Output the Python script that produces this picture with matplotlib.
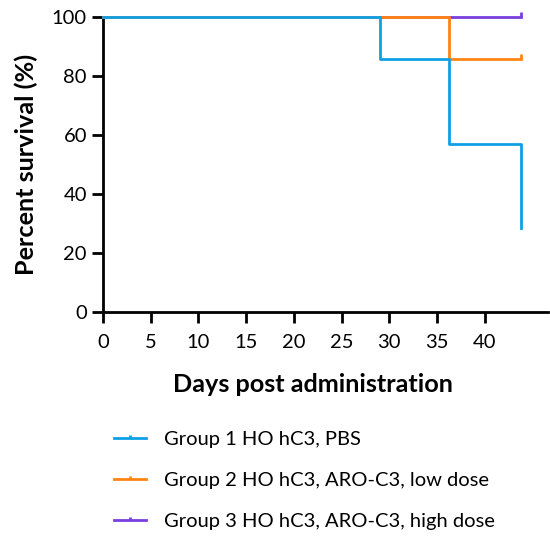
import matplotlib
matplotlib.use("Agg")
from matplotlib import pyplot as plt
from matplotlib.path import Path
from matplotlib.lines import Line2D

plt.rcParams['font.family'] = ['Lato', 'DejaVu Sans']

# Kaplan-Meier steps per group
g1_days = [0, 29, 36.3, 43.8]
g1_surv = [100, 85.7, 57.1, 28.6]
g2_days = [0, 36.3, 43.8]
g2_surv = [100, 85.7, 85.7]
g3_days = [0, 43.8]
g3_surv = [100, 100]
censor_g2 = ([43.8], [85.7])
censor_g3 = ([43.8], [100])

labels = ['Group 1 HO hC3, PBS',
          'Group 2 HO hC3, ARO-C3, low dose',
          'Group 3 HO hC3, ARO-C3, high dose']
colors = ['#0ea0e6', '#ff8412', '#7a3fe0']

# upward tick used for censored points
up_tick = Path([(0, 0), (0, 1)], [Path.MOVETO, Path.LINETO])

fig = plt.figure(figsize=(5.5, 5.38), dpi=100)
ax = fig.add_axes([0.187, 0.42, 0.809, 0.548])

ax.plot(g3_days, g3_surv, drawstyle='steps-post', color=colors[2], lw=2, clip_on=False, zorder=3)
ax.plot(g2_days, g2_surv, drawstyle='steps-post', color=colors[1], lw=2, clip_on=False, zorder=4)
ax.plot(g1_days, g1_surv, drawstyle='steps-post', color=colors[0], lw=2, clip_on=False, zorder=5)
ax.plot(*censor_g2, marker=up_tick, ms=7, mew=2, color=colors[1], ls='none', clip_on=False, zorder=4)
ax.plot(*censor_g3, marker=up_tick, ms=7, mew=2, color=colors[2], ls='none', clip_on=False, zorder=3)

ax.set_xlim(0, 46.6)
ax.set_ylim(0, 100)
ax.set_xticks(range(0, 41, 5))
ax.set_yticks(range(0, 101, 20))
for s in ['top', 'right']:
    ax.spines[s].set_visible(False)
for s in ['left', 'bottom']:
    ax.spines[s].set_linewidth(2)
ax.tick_params(width=2, length=8, labelsize=14.5, color='black')
ax.tick_params(axis='x', pad=8)
ax.set_xlabel('Days post administration', fontsize=18.2, fontweight='bold', labelpad=16, x=0.472)
ax.set_ylabel('Percent survival (%)', fontsize=18.2, fontweight='bold', labelpad=10)

handles = [Line2D([0], [0], color=c, lw=2, marker=up_tick, ms=5, mew=2) for c in colors]
fig.legend(handles, labels, loc='upper left', bbox_to_anchor=(0.174, 0.232), numpoints=1,
           frameon=False, fontsize=14.5, handlelength=1.6, labelspacing=1.18, handletextpad=0.9)

fig.savefig('out.png', dpi=100)
